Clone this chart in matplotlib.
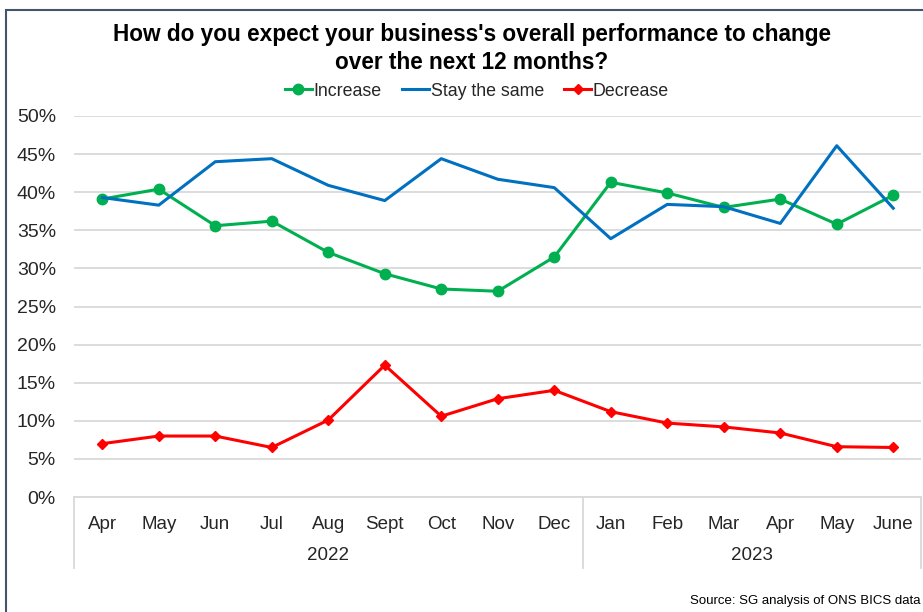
import matplotlib.pyplot as plt
from matplotlib.patches import Rectangle
from matplotlib.ticker import FuncFormatter
import matplotlib.transforms as mtransforms

plt.rcParams['font.family'] = ['Liberation Sans', 'DejaVu Sans']

months = ["Apr", "May", "Jun", "Jul", "Aug", "Sept", "Oct", "Nov", "Dec",
          "Jan", "Feb", "Mar", "Apr", "May", "June"]
years = ["2022", "2023"]
year_lengths = [9, 6]

increase = [39.1, 40.4, 35.6, 36.2, 32.1, 29.3, 27.3, 27.0, 31.5,
            41.3, 39.9, 38.0, 39.1, 35.8, 39.6]
stay_same = [39.3, 38.3, 44.0, 44.4, 40.9, 38.9, 44.4, 41.7, 40.6,
             33.9, 38.4, 38.1, 35.9, 46.1, 37.9]
decrease = [7.0, 8.0, 8.0, 6.5, 10.1, 17.3, 10.6, 12.9, 14.0,
            11.2, 9.7, 9.2, 8.4, 6.6, 6.5]

W, H = 923, 612
TXT = "#262626"
fig = plt.figure(figsize=(W / 100, H / 100), dpi=100)

# outer chart frame (runs off the right and bottom edges)
fig.patches.append(Rectangle((6 / W, -0.05), 1.2, 1 - 10 / H + 0.05,
                             transform=fig.transFigure, fill=False,
                             edgecolor="#44546A", linewidth=1.5))

ax = fig.add_axes([74 / W, 1 - 497 / H, (921.5 - 74) / W, (497 - 116) / H])

x = list(range(len(months)))
ax.plot(x, increase, color="#00B050", lw=2.2, marker="o", ms=7.5,
        label="Increase", zorder=3)
ax.plot(x, stay_same, color="#0070C0", lw=2.2, label="Stay the same",
        zorder=3)
ax.plot(x, decrease, color="#FF0000", lw=2.2, marker="D", ms=5.5,
        label="Decrease", zorder=3)

ax.set_xlim(-0.5, len(months) - 0.5)
ax.set_ylim(0, 50)
ax.set_yticks(range(0, 51, 5))
ax.yaxis.set_major_formatter(FuncFormatter(lambda v, p: f"{v:.0f}%"))
ax.grid(axis="y", color="#D9D9D9", lw=1.3)
ax.set_axisbelow(True)
for s in ["top", "right", "left"]:
    ax.spines[s].set_visible(False)
ax.spines["bottom"].set_color("#D9D9D9")
ax.spines["bottom"].set_linewidth(1.3)
ax.tick_params(axis="y", length=0, pad=13, labelsize=14, labelcolor=TXT)
ax.set_xticks(x)
ax.set_xticklabels(months)
ax.tick_params(axis="x", length=0, pad=13.5, labelsize=13.5, labelcolor=TXT)

# year group labels and separators below the axis
trans = mtransforms.blended_transform_factory(ax.transData, ax.transAxes)
drop = (568 - 497) / (497 - 116)
start = 0
edges = [-0.5]
for yr, n in zip(years, year_lengths):
    mid = start + (n - 1) / 2
    ax.text(mid, -(556 - 497) / (497 - 116), yr, transform=trans,
            ha="center", va="center", fontsize=13.5, color=TXT)
    start += n
    edges.append(start - 0.5)
for e in edges:
    ax.plot([e, e], [0, -drop], transform=trans, color="#D9D9D9", lw=1.3,
            clip_on=False)

fig.text(472 / W, 1 - 48.5 / H,
         "How do you expect your business's overall performance to change\n"
         "over the next 12 months?",
         ha="center", va="center", fontsize=16.3, fontweight="bold",
         linespacing=1.28)

fig.legend(loc="center", bbox_to_anchor=(477 / W, 1 - 91 / H), ncol=3,
           frameon=False, fontsize=12.8, handlelength=1.5, handletextpad=0.1,
           columnspacing=1.15, labelcolor=TXT)

fig.text(1 - 2 / W, 1 - 601 / H, "Source: SG analysis of ONS BICS data",
         ha="right", va="center", fontsize=9.5)

fig.savefig("out.png", dpi=100)
